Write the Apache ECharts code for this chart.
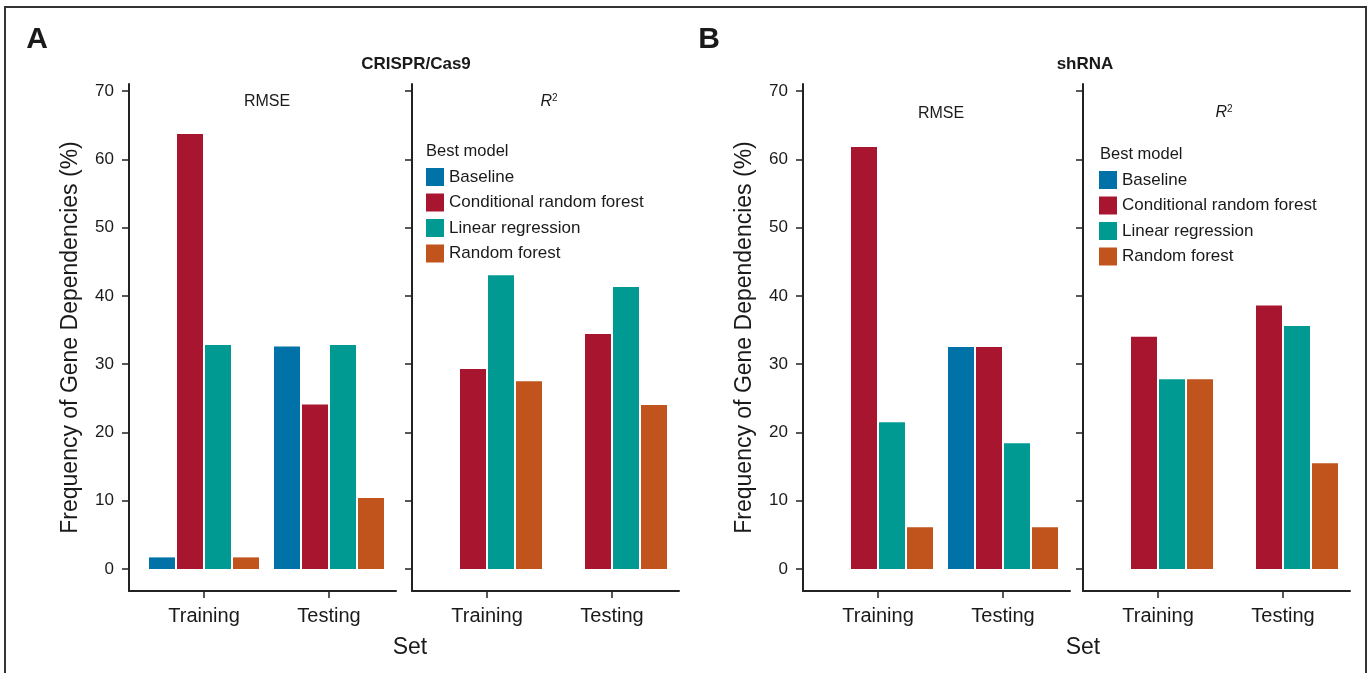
<!DOCTYPE html>
<html>
<head>
<meta charset="utf-8">
<title>Best model by set</title>
<script src="https://cdn.jsdelivr.net/npm/echarts@6/dist/echarts.min.js"></script>
<style>
    html, body { margin: 0; padding: 0; background: #fff; }
    #chart { width: 1369px; height: 673px; }
</style>
</head>
<body>
<div id="chart"></div>
<script>
// data (percent of gene dependencies)
const sets = ['Training', 'Testing'];
const models = ['Baseline', 'Conditional random forest', 'Linear regression', 'Random forest'];
const modelColors = ['#0072a8', '#a8152e', '#009a93', '#c1531d'];

// one row per model (same order as models), one column per set
const crisprRmse = [[1.7, 32.6], [63.7, 24.1], [32.8, 32.8], [1.7, 10.4]];
const crisprR2 = [[0, 0], [29.3, 34.4], [43.0, 41.3], [27.5, 24.0]];
const shrnaRmse = [[0, 32.5], [61.8, 32.5], [21.5, 18.4], [6.1, 6.1]];
const shrnaR2 = [[0, 0], [34.0, 38.6], [27.8, 35.6], [27.8, 15.5]];

const yMin = 0;
const yMax = 70;
const yStep = 10;

const font = "'Liberation Sans', Arial, Helvetica, sans-serif";
const ink = '#1a1a1a';
const axisLine = { color: '#222', width: 2 };

const facets = [
    { left: 129, data: crisprRmse, labels: true },
    { left: 412, data: crisprR2, labels: false },
    { left: 803, data: shrnaRmse, labels: true },
    { left: 1083, data: shrnaR2, labels: false }
];

let grid = [];
let xAxis = [];
let yAxis = [];
let series = [];

facets.forEach((f, k) => {
    // outer frame: only the two axis lines of the panel
    grid.push({ left: f.left, top: 84, width: 267, height: 507, outerBoundsMode: 'none' });
    xAxis.push({
        type: 'value', gridIndex: 2 * k, min: 0, max: 1,
        axisLine: { show: true, onZero: false, lineStyle: axisLine },
        axisTick: { show: false }, axisLabel: { show: false }, splitLine: { show: false }
    });
    yAxis.push({
        type: 'value', gridIndex: 2 * k, min: 0, max: 1,
        axisLine: { show: true, onZero: false, lineStyle: axisLine },
        axisTick: { show: false }, axisLabel: { show: false }, splitLine: { show: false },
        name: f.labels ? 'Frequency of Gene Dependencies (%)' : '',
        nameLocation: 'middle',
        nameGap: 47,
        nameTextStyle: { fontFamily: font, fontSize: 23, color: ink }
    });

    // inner grid holding the bars
    grid.push({ left: f.left + 12.5, top: 91, width: 250, height: 478, outerBoundsMode: 'none' });
    xAxis.push({
        type: 'category', gridIndex: 2 * k + 1, data: sets, offset: 22,
        axisLine: { show: false, onZero: false },
        axisTick: { show: true, alignWithLabel: true, length: 7, lineStyle: { color: '#222', width: 1.5 } },
        axisLabel: { fontFamily: font, fontSize: 20, color: ink, margin: 15 },
        splitLine: { show: false }
    });
    yAxis.push({
        type: 'value', gridIndex: 2 * k + 1, min: yMin, max: yMax, interval: yStep, offset: 12.5,
        axisLine: { show: false, onZero: false },
        axisTick: { show: true, length: 7, lineStyle: { color: '#222', width: 1.5 } },
        axisLabel: { show: f.labels, fontFamily: font, fontSize: 17, color: ink, margin: 15 },
        splitLine: { show: false }
    });

    models.forEach((m, i) => {
        series.push({
            type: 'bar',
            name: m,
            xAxisIndex: 2 * k + 1,
            yAxisIndex: 2 * k + 1,
            data: f.data[i],
            barWidth: 26,
            barGap: '7.7%',
            itemStyle: { color: modelColors[i] },
            emphasis: { disabled: true }
        });
    });
});

function legendAt (left, top) {
    return {
        data: models, orient: 'vertical', left: left, top: top, padding: 0,
        icon: 'rect', itemWidth: 18, itemHeight: 18, itemGap: 7.5,
        selectedMode: false,
        textStyle: { fontFamily: font, fontSize: 17, color: ink, lineHeight: 18 }
    };
}

function label (text, x, y, size, weight, align) {
    return {
        type: 'text', x: x, y: y, silent: true,
        style: {
            text: text, fontFamily: font, fontSize: size, fontWeight: weight || 'normal',
            fill: ink, align: align || 'center', verticalAlign: 'middle'
        }
    };
}

function r2Label (x, y) {
    return {
        type: 'text', x: x, y: y, silent: true,
        style: {
            text: '{i|R}{s|2}', align: 'center', verticalAlign: 'middle',
            rich: {
                i: { fontFamily: font, fontSize: 16, fontStyle: 'italic', fill: ink },
                s: { fontFamily: font, fontSize: 10, fill: ink, verticalAlign: 'top', padding: [0, 0, 8, 0] }
            }
        }
    };
}

const graphic = [
    {
        type: 'rect', z: -1, silent: true,
        shape: { x: 5, y: 7, width: 1361, height: 720 },
        style: { fill: 'none', stroke: '#333', lineWidth: 2 }
    },
    label('A', 37, 40, 30, 'bold'),
    label('B', 709, 40, 30, 'bold'),
    label('CRISPR/Cas9', 416, 64, 17, 'bold'),
    label('shRNA', 1085, 64, 17, 'bold'),
    label('RMSE', 267, 102, 16),
    label('RMSE', 941, 114, 16),
    r2Label(549, 102),
    r2Label(1224, 113),
    label('Best model', 426, 151, 16.5, 'normal', 'left'),
    label('Best model', 1100, 154, 16.5, 'normal', 'left'),
    label('Set', 410, 648, 23),
    label('Set', 1083, 648, 23)
];

const option = {
    backgroundColor: '#fff',
    animation: false,
    grid: grid,
    xAxis: xAxis,
    yAxis: yAxis,
    legend: [legendAt(426, 168), legendAt(1099, 171)],
    graphic: graphic,
    series: series
};

let mainChart = echarts.init(document.getElementById('chart'));
mainChart.setOption(option);
</script>
</body>
</html>
